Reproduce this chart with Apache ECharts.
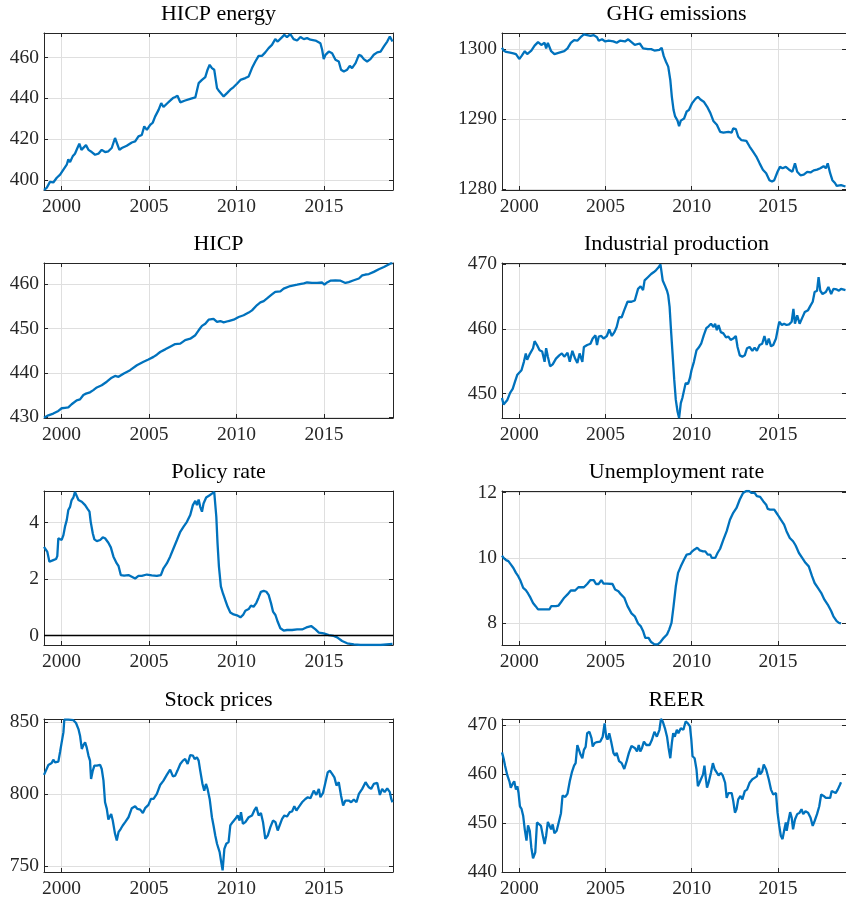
<!DOCTYPE html>
<html><head><meta charset="utf-8">
<script src="https://cdn.jsdelivr.net/npm/echarts@6/dist/echarts.min.js"></script>
<style>html,body{margin:0;padding:0;background:#fff}#c{width:846px;height:899px}</style>
</head><body><div id="c"></div><script>
const hicpEnergy = [[1999.00,395],[1999.15,396],[1999.34,399],[1999.53,398.7],[1999.73,401],[1999.92,402.5],[2000.11,405],[2000.30,407.4],[2000.39,410],[2000.49,408.7],[2000.64,411.5],[2000.77,412.8],[2000.91,415.6],[2001.02,417.7],[2001.14,414.7],[2001.25,415.6],[2001.40,417],[2001.54,414.7],[2001.73,413.6],[2001.92,412.3],[2002.11,412.8],[2002.30,414.7],[2002.49,413.6],[2002.68,414],[2002.87,415.6],[2003.06,420.5],[2003.16,421],[2003.31,414.7],[2003.45,415.6],[2003.73,416.7],[2004.02,418.3],[2004.21,418.8],[2004.40,421.3],[2004.59,422],[2004.73,426.2],[2004.88,424.5],[2005.07,427],[2005.22,428.1],[2005.35,431],[2005.55,434.3],[2005.70,437.6],[2005.83,435.7],[2006.02,437.3],[2006.21,438.8],[2006.37,440.1],[2006.50,440.6],[2006.63,441.2],[2006.79,438],[2007.07,438.9],[2007.36,439.7],[2007.65,440.4],[2007.84,447.4],[2008.03,449],[2008.22,450.4],[2008.35,454],[2008.47,456.4],[2008.60,454.8],[2008.73,454],[2008.89,445],[2008.98,443.8],[2009.08,443.3],[2009.27,440.9],[2009.46,442.5],[2009.65,444.2],[2009.84,445.5],[2010.03,447.1],[2010.23,449],[2010.51,449.9],[2010.70,450.7],[2010.89,454.8],[2011.08,458],[2011.27,460.8],[2011.46,460.8],[2011.65,462.5],[2011.84,464.6],[2012.03,466.2],[2012.22,469],[2012.36,467.8],[2012.47,467],[2012.61,470],[2012.74,471.1],[2012.89,470],[2013.08,471.4],[2013.27,469],[2013.47,468.3],[2013.66,470],[2013.85,469],[2014.04,469.5],[2014.23,468.7],[2014.52,468.3],[2014.80,467],[2014.90,463.8],[2014.99,459.2],[2015.09,461.3],[2015.28,462.9],[2015.47,462.1],[2015.66,458.9],[2015.85,458],[2015.98,454],[2016.14,453.1],[2016.33,454],[2016.48,455.9],[2016.61,454.8],[2016.81,457.2],[2017.00,461.3],[2017.13,460.8],[2017.28,459.2],[2017.47,458],[2017.66,459.2],[2017.85,461.3],[2018.05,462.5],[2018.24,462.9],[2018.43,465.4],[2018.62,467.8],[2018.77,470.3],[2018.85,470],[2018.92,467.8]];
const ghgEmissions = [[1999.00,1300.2],[1999.09,1299.8],[1999.24,1299.6],[1999.47,1299.5],[1999.66,1299.4],[1999.81,1299.3],[2000.00,1298.6],[2000.13,1299],[2000.32,1299.7],[2000.46,1299.3],[2000.70,1299.8],[2000.89,1300.5],[2001.09,1301],[2001.28,1300.6],[2001.47,1300.9],[2001.56,1300.1],[2001.66,1300.9],[2001.85,1299.7],[2002.04,1299.3],[2002.32,1299.5],[2002.61,1299.7],[2002.80,1300.1],[2002.99,1300.9],[2003.18,1301.3],[2003.37,1301.2],[2003.56,1301.7],[2003.75,1302.1],[2003.94,1302],[2004.13,1301.9],[2004.32,1302],[2004.51,1301.7],[2004.61,1301.2],[2004.80,1301.4],[2004.99,1301.1],[2005.18,1301.2],[2005.46,1301.1],[2005.65,1300.9],[2005.84,1301.2],[2006.13,1301.1],[2006.32,1301.4],[2006.51,1301],[2006.70,1300.6],[2006.99,1300.8],[2007.18,1300.1],[2007.46,1300],[2007.65,1300],[2007.84,1299.8],[2008.13,1299.9],[2008.26,1300.2],[2008.38,1299],[2008.51,1298.2],[2008.64,1297.5],[2008.76,1295.6],[2008.85,1293.2],[2008.95,1291.3],[2009.04,1290.4],[2009.18,1289.8],[2009.27,1289],[2009.37,1289.8],[2009.56,1290.1],[2009.71,1291.1],[2009.84,1291.3],[2010.03,1292.3],[2010.22,1292.9],[2010.36,1293.2],[2010.51,1292.8],[2010.70,1292.5],[2010.89,1291.8],[2011.08,1290.9],[2011.27,1289.7],[2011.46,1289.2],[2011.65,1288.2],[2011.84,1288.1],[2012.13,1288.2],[2012.32,1288.1],[2012.41,1288.7],[2012.56,1288.6],[2012.70,1287.5],[2012.89,1287],[2013.17,1286.9],[2013.36,1286.1],[2013.55,1285.4],[2013.74,1284.7],[2013.94,1283.7],[2014.13,1282.8],[2014.32,1282.3],[2014.51,1281.3],[2014.66,1281.1],[2014.79,1281.3],[2014.98,1282.5],[2015.12,1283.2],[2015.27,1283],[2015.46,1283.2],[2015.65,1282.8],[2015.84,1282.5],[2015.99,1283.7],[2016.12,1282.5],[2016.31,1282],[2016.50,1282.1],[2016.70,1282.5],[2016.89,1282.4],[2017.08,1282.7],[2017.27,1282.8],[2017.46,1283],[2017.65,1283.3],[2017.78,1283],[2017.89,1283.7],[2018.03,1282.3],[2018.16,1281.3],[2018.31,1280.9],[2018.41,1280.5],[2018.50,1280.7],[2018.66,1280.6],[2018.92,1280.4]];
const hicp = [[1999.00,429.85],[1999.25,430.4],[1999.53,430.8],[1999.82,431.4],[2000.01,432],[2000.20,432.1],[2000.39,432.2],[2000.58,432.9],[2000.87,433.8],[2001.06,434],[2001.25,435],[2001.40,435.3],[2001.63,435.6],[2001.82,436.1],[2002.02,436.7],[2002.30,437.2],[2002.59,438],[2002.87,438.9],[2003.06,439.3],[2003.26,439.1],[2003.54,439.8],[2003.92,440.6],[2004.31,441.7],[2004.69,442.5],[2004.97,443],[2005.26,443.6],[2005.45,444.1],[2005.64,444.7],[2005.93,445.3],[2006.21,445.9],[2006.50,446.5],[2006.79,446.6],[2007.07,447.4],[2007.36,447.7],[2007.65,448.5],[2007.84,449.6],[2008.03,450.6],[2008.22,451.1],[2008.41,452],[2008.69,452.2],[2008.89,451.5],[2009.08,451.7],[2009.27,451.4],[2009.55,451.7],[2009.84,452],[2010.13,452.6],[2010.41,453],[2010.70,453.6],[2010.89,454.1],[2011.18,455.3],[2011.37,455.9],[2011.56,456.2],[2011.75,456.8],[2012.03,457.7],[2012.22,458.3],[2012.51,458.4],[2012.70,459],[2013.08,459.6],[2013.47,459.9],[2013.85,460.2],[2014.04,460.4],[2014.32,460.3],[2014.61,460.3],[2014.90,460.4],[2015.03,459.9],[2015.18,460.4],[2015.37,460.8],[2015.66,460.9],[2015.95,460.8],[2016.23,460.3],[2016.42,460.5],[2016.71,460.9],[2017.00,461.3],[2017.19,462],[2017.38,462.2],[2017.57,462.3],[2017.85,462.8],[2018.14,463.4],[2018.43,463.9],[2018.62,464.3],[2018.81,464.7],[2018.92,464.7]];
const industrialProduction = [[1999.00,449.3],[1999.09,448.3],[1999.18,448.5],[1999.31,449],[1999.47,450.1],[1999.62,450.7],[1999.75,451.8],[1999.89,452.9],[2000.00,452.6],[2000.13,453.6],[2000.27,454.9],[2000.38,456.2],[2000.46,455.2],[2000.61,456.1],[2000.80,457],[2000.89,458.1],[2001.03,457.5],[2001.18,456.7],[2001.33,456.5],[2001.47,454.9],[2001.56,457],[2001.66,455.7],[2001.79,454.2],[2001.94,454.5],[2002.13,455.4],[2002.32,455.9],[2002.47,456.2],[2002.61,455.7],[2002.80,456.3],[2002.93,454.9],[2003.08,456.6],[2003.24,455.4],[2003.37,454.7],[2003.50,456.2],[2003.66,454.9],[2003.75,457.2],[2003.94,457.5],[2004.13,457.7],[2004.26,458.5],[2004.42,459],[2004.51,457.5],[2004.61,458.8],[2004.76,458.9],[2004.89,458.5],[2005.08,458.9],[2005.22,459.9],[2005.37,458.9],[2005.52,459.5],[2005.65,460.3],[2005.79,461.8],[2005.94,461.8],[2006.09,462.9],[2006.28,464.2],[2006.51,464.2],[2006.70,464.4],[2006.89,466.2],[2007.04,466.6],[2007.18,466],[2007.27,467.5],[2007.46,468],[2007.65,468.5],[2007.81,468.8],[2007.94,469.1],[2008.07,469.5],[2008.19,470],[2008.26,470.1],[2008.32,467.5],[2008.45,466.7],[2008.57,465.9],[2008.64,465.2],[2008.72,463.4],[2008.79,460.3],[2008.89,456.2],[2008.99,452.1],[2009.08,449],[2009.18,447.2],[2009.27,446.2],[2009.37,448.5],[2009.46,449.3],[2009.56,449.5],[2009.65,451.6],[2009.79,451.5],[2009.90,452.4],[2009.99,453.6],[2010.13,454.9],[2010.28,456.7],[2010.41,457.1],[2010.55,457.7],[2010.70,459],[2010.85,460.1],[2010.98,460.4],[2011.12,460.8],[2011.27,460.3],[2011.36,460.8],[2011.46,459.8],[2011.56,460.6],[2011.69,459.5],[2011.84,459.3],[2011.99,458.7],[2012.13,458.8],[2012.26,458.3],[2012.41,458.5],[2012.56,458.9],[2012.66,457.2],[2012.79,455.9],[2012.94,455.7],[2013.08,455.9],[2013.21,457],[2013.36,457.2],[2013.52,456.6],[2013.65,457.1],[2013.78,456.6],[2013.94,457.5],[2014.09,457.7],[2014.22,458.9],[2014.35,457.5],[2014.47,458.5],[2014.60,457.3],[2014.73,457.5],[2014.89,458.5],[2014.98,459.8],[2015.08,461.1],[2015.23,460.6],[2015.36,460.8],[2015.50,460.6],[2015.65,460.7],[2015.80,461.1],[2015.90,463.1],[2015.99,460.8],[2016.12,462.1],[2016.26,460.8],[2016.41,461.7],[2016.56,462.6],[2016.75,462.9],[2016.89,463.6],[2017.02,464.2],[2017.13,465.7],[2017.27,465.9],[2017.36,468],[2017.46,465.9],[2017.59,465.4],[2017.78,465.7],[2017.93,466.5],[2018.09,465.4],[2018.22,466.2],[2018.41,466.1],[2018.54,465.9],[2018.66,466.2],[2018.92,466]];
const policyRate = [[1999.00,3.14],[1999.11,3.08],[1999.19,2.96],[1999.31,2.61],[1999.38,2.58],[1999.53,2.67],[1999.69,2.71],[1999.76,2.81],[1999.82,3.44],[1999.92,3.47],[2000.01,3.38],[2000.11,3.55],[2000.20,3.85],[2000.30,4.08],[2000.39,4.44],[2000.49,4.55],[2000.58,4.79],[2000.68,4.88],[2000.77,5.08],[2000.87,5.02],[2000.97,4.79],[2001.16,4.73],[2001.35,4.61],[2001.48,4.49],[2001.60,4.38],[2001.67,4.02],[2001.79,3.61],[2001.88,3.4],[2002.02,3.34],[2002.21,3.38],[2002.36,3.47],[2002.49,3.44],[2002.68,3.28],[2002.82,3.12],[2002.97,2.79],[2003.16,2.55],[2003.26,2.46],[2003.39,2.14],[2003.58,2.12],[2003.83,2.14],[2004.02,2.08],[2004.21,2.02],[2004.40,2.11],[2004.59,2.11],[2004.88,2.16],[2005.16,2.13],[2005.45,2.11],[2005.68,2.14],[2005.83,2.38],[2006.02,2.55],[2006.21,2.79],[2006.40,3.08],[2006.60,3.38],[2006.79,3.67],[2006.98,3.85],[2007.17,4.02],[2007.36,4.26],[2007.51,4.61],[2007.65,4.76],[2007.74,4.61],[2007.84,4.81],[2007.93,4.55],[2008.03,4.38],[2008.12,4.67],[2008.27,4.88],[2008.47,4.96],[2008.60,5.02],[2008.73,5.08],[2008.79,5.02],[2008.85,4.2],[2008.92,3.26],[2009.00,2.44],[2009.11,1.74],[2009.23,1.49],[2009.36,1.26],[2009.50,1.02],[2009.65,0.82],[2009.84,0.75],[2010.03,0.72],[2010.23,0.65],[2010.38,0.73],[2010.51,0.88],[2010.70,0.94],[2010.83,1.06],[2010.98,1.02],[2011.14,1.16],[2011.27,1.35],[2011.40,1.55],[2011.56,1.58],[2011.71,1.55],[2011.84,1.44],[2011.98,1.14],[2012.09,0.85],[2012.23,0.73],[2012.36,0.49],[2012.51,0.26],[2012.70,0.18],[2012.89,0.2],[2013.18,0.2],[2013.47,0.22],[2013.75,0.22],[2014.00,0.29],[2014.27,0.34],[2014.52,0.22],[2014.71,0.11],[2014.99,0.08],[2015.28,0.02],[2015.56,-0.01],[2015.76,-0.06],[2016.04,-0.19],[2016.33,-0.27],[2016.71,-0.31],[2017.09,-0.33],[2017.47,-0.33],[2018.24,-0.33],[2018.92,-0.29]];
const unemploymentRate = [[1999.00,10.07],[1999.09,10.0],[1999.24,9.93],[1999.37,9.9],[1999.51,9.8],[1999.66,9.69],[1999.81,9.54],[1999.94,9.44],[2000.08,9.29],[2000.23,9.08],[2000.38,9.01],[2000.51,8.91],[2000.65,8.78],[2000.80,8.62],[2000.95,8.52],[2001.09,8.42],[2001.28,8.42],[2001.56,8.42],[2001.75,8.42],[2001.85,8.52],[2002.13,8.52],[2002.28,8.54],[2002.42,8.64],[2002.61,8.78],[2002.80,8.88],[2002.99,9.0],[2003.24,9.0],[2003.43,9.1],[2003.75,9.1],[2003.94,9.2],[2004.13,9.32],[2004.32,9.32],[2004.45,9.2],[2004.61,9.2],[2004.76,9.32],[2004.89,9.21],[2005.08,9.21],[2005.41,9.2],[2005.56,9.03],[2005.75,8.98],[2005.90,8.88],[2006.09,8.78],[2006.28,8.52],[2006.51,8.3],[2006.70,8.21],[2006.89,7.99],[2007.04,7.91],[2007.18,7.76],[2007.31,7.55],[2007.50,7.55],[2007.65,7.42],[2007.84,7.35],[2008.03,7.35],[2008.19,7.42],[2008.38,7.55],[2008.57,7.65],[2008.70,7.81],[2008.83,8.01],[2008.95,8.52],[2009.08,9.13],[2009.21,9.54],[2009.37,9.74],[2009.56,9.95],[2009.71,10.1],[2009.90,10.12],[2010.03,10.2],[2010.17,10.26],[2010.32,10.31],[2010.47,10.23],[2010.66,10.2],[2010.79,10.2],[2010.93,10.1],[2011.08,10.1],[2011.17,10.0],[2011.37,10.0],[2011.50,10.15],[2011.65,10.28],[2011.84,10.56],[2012.03,10.82],[2012.22,11.17],[2012.41,11.38],[2012.60,11.53],[2012.79,11.79],[2012.98,11.99],[2013.17,12.05],[2013.33,12.05],[2013.46,11.99],[2013.65,11.99],[2013.78,11.89],[2013.97,11.87],[2014.16,11.73],[2014.32,11.63],[2014.41,11.5],[2014.54,11.48],[2014.79,11.48],[2014.98,11.33],[2015.17,11.17],[2015.36,11.02],[2015.50,10.82],[2015.69,10.61],[2015.88,10.51],[2016.03,10.38],[2016.22,10.15],[2016.41,10.0],[2016.60,9.85],[2016.79,9.74],[2016.98,9.44],[2017.13,9.23],[2017.32,9.08],[2017.51,8.93],[2017.70,8.72],[2017.89,8.57],[2018.09,8.37],[2018.22,8.21],[2018.41,8.06],[2018.54,8.01],[2018.66,7.99]];
const stockPrices = [[1999.00,813.2],[1999.11,814.5],[1999.25,820.1],[1999.34,820.8],[1999.44,821.5],[1999.53,823.8],[1999.63,821.9],[1999.73,823.1],[1999.82,822.4],[1999.92,829.3],[2000.01,835.8],[2000.11,842.7],[2000.16,851.5],[2000.26,850.8],[2000.39,851.5],[2000.49,850.8],[2000.68,851.2],[2000.83,849.2],[2000.97,845],[2001.06,840.4],[2001.16,831.2],[2001.25,833.9],[2001.35,835.8],[2001.44,832.3],[2001.54,826.6],[2001.63,823.1],[2001.69,810.4],[2001.79,816.2],[2001.88,819.6],[2002.02,819.6],[2002.11,818.5],[2002.21,820.1],[2002.30,817.3],[2002.40,809.2],[2002.49,794.2],[2002.59,789.6],[2002.68,782.2],[2002.78,783.1],[2002.84,786.1],[2002.93,781.5],[2003.06,772.3],[2003.16,767.7],[2003.26,773.4],[2003.39,775.8],[2003.50,778.1],[2003.64,780.4],[2003.83,783.8],[2004.02,790.1],[2004.21,791.5],[2004.34,789.6],[2004.50,789.1],[2004.65,786.8],[2004.78,790.1],[2004.97,792.4],[2005.11,796.5],[2005.26,796.5],[2005.45,800],[2005.64,806.2],[2005.83,809.2],[2006.02,813.2],[2006.21,816.9],[2006.37,812.2],[2006.50,812.7],[2006.63,816.2],[2006.79,820.8],[2006.94,823.1],[2007.07,824.2],[2007.21,820.8],[2007.36,827],[2007.51,826.6],[2007.61,824.2],[2007.74,825.4],[2007.84,823.1],[2007.93,816.2],[2008.06,806.9],[2008.16,802.3],[2008.26,806.9],[2008.35,803.5],[2008.47,796.5],[2008.60,783.8],[2008.69,778.1],[2008.79,771.1],[2008.89,765.4],[2009.04,759.6],[2009.13,752.7],[2009.21,746.9],[2009.31,761.9],[2009.42,765.4],[2009.55,766.5],[2009.65,778.1],[2009.78,780.4],[2009.94,782.7],[2010.07,785],[2010.18,781.5],[2010.26,787.3],[2010.37,779.2],[2010.51,780.4],[2010.70,783.8],[2010.89,785],[2011.02,788.5],[2011.14,790.8],[2011.27,785],[2011.40,786.8],[2011.52,780.4],[2011.65,768.8],[2011.79,771.1],[2011.94,776.9],[2012.09,781.5],[2012.23,780.4],[2012.36,774.6],[2012.47,775.8],[2012.61,782.7],[2012.74,785],[2012.89,784.3],[2013.05,787.3],[2013.18,787.8],[2013.31,791.5],[2013.43,788.5],[2013.56,790.8],[2013.75,794.2],[2013.94,796.5],[2014.08,797.7],[2014.23,797],[2014.42,802.3],[2014.57,799.3],[2014.71,803.5],[2014.80,797.7],[2014.95,800.7],[2015.09,808.1],[2015.22,815],[2015.34,816.2],[2015.47,813.9],[2015.60,811.5],[2015.72,805.8],[2015.85,808.1],[2015.98,798.8],[2016.10,791.9],[2016.23,795.4],[2016.42,795.4],[2016.56,794.2],[2016.71,796.1],[2016.86,794.2],[2017.00,800],[2017.19,803.5],[2017.38,808.1],[2017.57,804.6],[2017.70,803.5],[2017.85,806.9],[2018.05,807.6],[2018.20,799.3],[2018.33,803.5],[2018.47,801.2],[2018.62,803.9],[2018.77,801.2],[2018.85,796.5],[2018.92,794.2]];
const reer = [[1999.00,464.4],[1999.09,463.2],[1999.18,461.6],[1999.31,459.7],[1999.43,458.5],[1999.51,457.2],[1999.62,458],[1999.71,458.5],[1999.81,456.8],[1999.89,457.5],[1999.96,456.1],[2000.04,453.4],[2000.13,452.9],[2000.23,451.4],[2000.32,448.7],[2000.42,446.4],[2000.51,449.5],[2000.61,448.4],[2000.70,445],[2000.80,442.8],[2000.86,442.5],[2000.93,444],[2001.03,450.1],[2001.14,449.7],[2001.26,449.4],[2001.37,447.4],[2001.47,445.7],[2001.56,447.4],[2001.66,450.2],[2001.75,450.4],[2001.85,448.7],[2001.94,449.7],[2002.04,447.9],[2002.17,448.4],[2002.28,448.7],[2002.42,452],[2002.51,455.6],[2002.67,455.3],[2002.80,456],[2002.93,458.5],[2003.05,460.3],[2003.18,461.7],[2003.27,462.2],[2003.37,465.9],[2003.46,466.3],[2003.56,463.9],[2003.66,463.2],[2003.75,464.9],[2003.85,465.5],[2003.94,468.3],[2004.07,468.6],[2004.19,467.3],[2004.26,465.6],[2004.38,466.3],[2004.51,466.5],[2004.70,466.6],[2004.84,467.6],[2004.95,470.3],[2005.04,467.6],[2005.12,467],[2005.22,468.3],[2005.33,466.6],[2005.46,464.3],[2005.56,463.7],[2005.65,464.3],[2005.79,462.6],[2005.94,462.2],[2006.09,461],[2006.23,462.6],[2006.36,464.3],[2006.51,465.7],[2006.70,465.3],[2006.83,464.6],[2006.93,465.9],[2007.02,464.6],[2007.12,465.3],[2007.23,466.6],[2007.37,465.9],[2007.56,465.9],[2007.69,466.9],[2007.84,468.6],[2007.98,467.6],[2008.13,469],[2008.22,471.2],[2008.32,470.7],[2008.45,469.3],[2008.57,467.6],[2008.66,465.3],[2008.76,463.2],[2008.85,466.3],[2008.93,468.3],[2009.02,467.6],[2009.14,469],[2009.23,468.3],[2009.37,469.3],[2009.52,469],[2009.65,470.7],[2009.78,470.3],[2009.90,469.7],[2009.98,467],[2010.05,463.6],[2010.17,463.2],[2010.28,460.9],[2010.36,457.5],[2010.45,458.2],[2010.55,458],[2010.66,459.9],[2010.74,461.7],[2010.81,459.4],[2010.89,457.2],[2010.98,458.2],[2011.12,460.3],[2011.23,462.2],[2011.33,461],[2011.42,460.9],[2011.56,459.7],[2011.69,460.2],[2011.80,459.7],[2011.94,458.2],[2012.03,455.1],[2012.13,456.1],[2012.22,456.5],[2012.32,456.1],[2012.41,454.5],[2012.51,452.1],[2012.60,452.8],[2012.70,454.8],[2012.83,455.5],[2012.94,454.8],[2013.08,456.5],[2013.21,456.8],[2013.36,458.2],[2013.52,458.9],[2013.65,459.2],[2013.78,459.5],[2013.90,461.2],[2013.97,459.9],[2014.09,460.5],[2014.18,461.9],[2014.32,460.9],[2014.47,458.9],[2014.60,456.8],[2014.73,455.8],[2014.89,456.1],[2014.98,452.1],[2015.08,449.4],[2015.17,447.4],[2015.27,446.7],[2015.36,448.4],[2015.46,450.1],[2015.51,448.4],[2015.61,450.4],[2015.71,452.2],[2015.80,451.1],[2015.88,448.7],[2015.99,450.7],[2016.12,451.8],[2016.26,452.1],[2016.37,452.8],[2016.47,451.8],[2016.60,452.4],[2016.75,452.1],[2016.89,451.1],[2017.02,449.4],[2017.13,450.4],[2017.27,451.8],[2017.40,453.4],[2017.51,455.8],[2017.65,455.5],[2017.78,455.1],[2017.89,455.5],[2018.03,455.1],[2018.12,456.5],[2018.22,456.8],[2018.35,456.1],[2018.47,456.8],[2018.60,457.8],[2018.66,458.3]];

const titles = ['HICP energy','GHG emissions','HICP','Industrial production','Policy rate','Unemployment rate','Stock prices','REER'];
const seriesList = [hicpEnergy, ghgEmissions, hicp, industrialProduction, policyRate, unemploymentRate, stockPrices, reer];
const xTicks = [2000, 2005, 2010, 2015];
const yTicks = [[400,420,440,460],[1280,1290,1300],[430,440,450,460],[450,460,470],[0,2,4],[8,10,12],[750,800,850],[440,450,460,470]];
const yMin = [395, 1279.9, 429.8, 446.2, -0.33, 7.33, 745.8, 440];
const yMax = [472, 1302.3, 464.8, 470.2, 5.11, 12.05, 852, 471.2];
const xMin = 1999, xMax = 2018.95;

// layout (pixels)
const colLeft = [44, 502], plotW = 349;
const rowTop = [33, 263, 491, 719], rowH = [157, 155, 154, 154];
const FONT = 'Liberation Serif';
const AX = '#262626', GRIDC = '#dfdfdf', LINE = '#0072BD';
const plain = v => String(v);

const grid = [], xAxis = [], yAxis = [], series = [], title = [];
for (let i = 0; i < 8; i++) {
  const c = i % 2, r = Math.floor(i / 2);
  grid.push({left: colLeft[c], top: rowTop[r], width: plotW, height: rowH[r], containLabel: false});
  title.push({text: titles[i], left: colLeft[c] + plotW / 2, top: rowTop[r] - 30, textAlign: 'center', padding: 0,
    textStyle: {fontFamily: FONT, fontSize: 22, fontWeight: 'normal', color: '#000'}});
  const axLine = {show: true, onZero: false, lineStyle: {color: AX, width: 1}};
  xAxis.push({type: 'value', gridIndex: i, min: xMin, max: xMax, position: 'bottom', axisLine: axLine,
    axisTick: {show: true, inside: true, length: 4, customValues: xTicks, lineStyle: {color: AX}},
    axisLabel: {show: true, customValues: xTicks, formatter: plain, margin: 7, color: AX, fontFamily: FONT, fontSize: 19.5},
    splitLine: {show: true, lineStyle: {color: GRIDC, width: 1}}});
  xAxis.push({type: 'value', gridIndex: i, min: xMin, max: xMax, position: 'top', axisLine: axLine,
    axisTick: {show: true, inside: true, length: 4, customValues: xTicks, lineStyle: {color: AX}},
    axisLabel: {show: false}, splitLine: {show: false}});
  yAxis.push({type: 'value', gridIndex: i, min: yMin[i], max: yMax[i], position: 'left', axisLine: axLine,
    axisTick: {show: true, inside: true, length: 4, customValues: yTicks[i], lineStyle: {color: AX}},
    axisLabel: {show: true, customValues: yTicks[i], formatter: plain, margin: 5, color: AX, fontFamily: FONT, fontSize: 19.5},
    splitLine: {show: true, lineStyle: {color: GRIDC, width: 1}}});
  yAxis.push({type: 'value', gridIndex: i, min: yMin[i], max: yMax[i], position: 'right', axisLine: axLine,
    axisTick: {show: true, inside: true, length: 4, customValues: yTicks[i], lineStyle: {color: AX}},
    axisLabel: {show: false}, splitLine: {show: false}});
  const s = {type: 'line', name: titles[i], data: seriesList[i], xAxisIndex: 2 * i, yAxisIndex: 2 * i,
    showSymbol: false, symbol: 'none', smooth: false, clip: true, lineStyle: {color: LINE, width: 2.3}, z: 3};
  if (i === 4) {
    s.markLine = {silent: true, symbol: 'none', animation: false, label: {show: false},
      lineStyle: {color: '#000', width: 1.3, type: 'solid'}, data: [{yAxis: 0}]};
  }
  series.push(s);
}
const chart = echarts.init(document.getElementById('c'), null, {renderer: 'canvas'});
chart.setOption({animation: false, backgroundColor: '#fff', title, grid, xAxis, yAxis, series});
</script></body></html>
